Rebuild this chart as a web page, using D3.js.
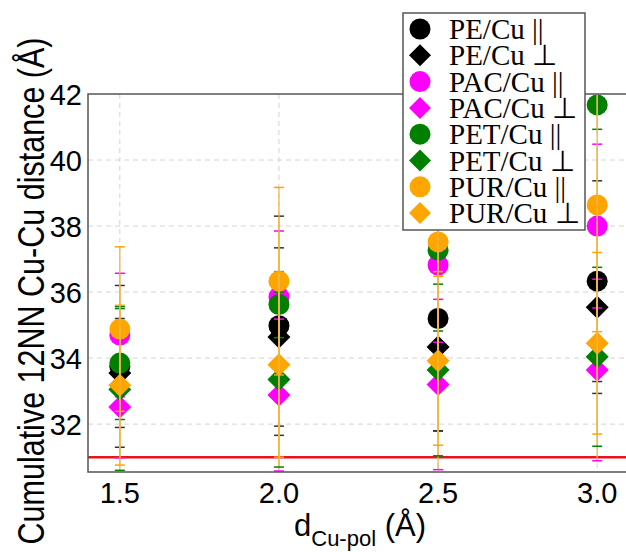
<!DOCTYPE html>
<html>
<head>
<meta charset="utf-8">
<script src="https://cdn.jsdelivr.net/npm/d3@7"></script>
<style>
  body { margin: 0; background: #fff; }
  svg { display: block; }
</style>
</head>
<body>
<script>
// x positions (d Cu-pol, in Å)
const xValues = [1.5, 2.0, 2.5, 3.0];
const xTicks = [1.5, 2.0, 2.5, 3.0];
const yTicks = [32, 34, 36, 38, 40, 42];

// series, in the order they were plotted
const seriesNames = ["PE/Cu ||", "PE/Cu ⊥", "PAC/Cu ||", "PAC/Cu ⊥",
                     "PET/Cu ||", "PET/Cu ⊥", "PUR/Cu ||", "PUR/Cu ⊥"];
const seriesColors = ["black", "black", "magenta", "magenta",
                      "green", "green", "orange", "orange"];
const seriesShapes = ["circle", "diamond", "circle", "diamond",
                      "circle", "diamond", "circle", "diamond"];

const pePar = [33.75, 34.98, 35.2, 36.33];
const peParErr = [2.45, 3.32, 3.4, 3.04];
const pePerp = [33.55, 34.64, 34.34, 35.54];
const pePerpErr = [1.65, 2.7, 2.55, 2.61];
const pacPar = [34.7, 35.85, 36.82, 38.0];
const pacParErr = [1.87, 2.0, 2.34, 2.48];
const pacPerp = [32.52, 32.88, 33.2, 33.64];
const pacPerpErr = [1.54, 2.3, 2.58, 2.75];
const petPar = [33.85, 35.62, 37.27, 41.67];
const petParErr = [1.71, 1.0, 2.45, 0.74];
const petPerp = [33.05, 33.35, 33.64, 34.04];
const petPerpErr = [2.45, 2.65, 2.6, 2.71];
const purPar = [34.88, 36.33, 37.52, 38.64];
const purParErr = [2.49, 2.84, 0.9, 3.84];
const purPerp = [33.18, 33.8, 33.92, 34.45];
const purPerpErr = [2.42, 2.8, 2.56, 2.75];

const refLine = 31.0;

const seriesValues = [pePar, pePerp, pacPar, pacPerp, petPar, petPerp, purPar, purPerp];
const seriesErrors = [peParErr, pePerpErr, pacParErr, pacPerpErr, petParErr, petPerpErr, purParErr, purPerpErr];

let width = 626,
    height = 552;

let plotLeft = 88, plotRight = 629, plotTop = 94, plotBottom = 472;

let x = d3.scaleLinear().domain([1.4, 3.1]).range([plotLeft, plotRight]);
let y = d3.scaleLinear().domain([30.55, 42]).range([plotBottom, plotTop]);

let svg = d3.select("body").append("svg")
    .attr("width", width)
    .attr("height", height);

svg.append("defs").append("clipPath")
    .attr("id", "plotclip")
  .append("rect")
    .attr("x", plotLeft)
    .attr("y", plotTop)
    .attr("width", plotRight - plotLeft)
    .attr("height", plotBottom - plotTop);

// grid lines (dashed)
let grid = svg.append("g").attr("class", "grid");
grid.selectAll(".hgrid")
  .data(yTicks.filter(d => d < 42))
  .enter().append("line")
    .attr("x1", plotLeft).attr("x2", plotRight)
    .attr("y1", d => y(d)).attr("y2", d => y(d))
    .attr("stroke", "#d4d4d4")
    .attr("stroke-width", 1)
    .attr("stroke-dasharray", "5,4");
grid.selectAll(".vgrid")
  .data(xTicks)
  .enter().append("line")
    .attr("x1", d => x(d)).attr("x2", d => x(d))
    .attr("y1", plotTop).attr("y2", plotBottom)
    .attr("stroke", "#d4d4d4")
    .attr("stroke-width", 1)
    .attr("stroke-dasharray", "5,4");

let plot = svg.append("g").attr("clip-path", "url(#plotclip)");

// red reference line
plot.append("line")
    .attr("x1", plotLeft).attr("x2", plotRight)
    .attr("y1", y(refLine)).attr("y2", y(refLine))
    .attr("stroke", "#e8141c")
    .attr("stroke-width", 2.5);

let diamond = function(cx, cy, r) {
  return "M" + cx + "," + (cy - r) + "L" + (cx + r) + "," + cy +
         "L" + cx + "," + (cy + r) + "L" + (cx - r) + "," + cy + "Z";
};

seriesNames.forEach(function(name, i) {
  let pts = xValues.map((xv, j) => ({x: xv, v: seriesValues[i][j], e: seriesErrors[i][j]}));
  let g = plot.append("g").attr("class", "series");

  if (seriesShapes[i] == "circle") {
    g.selectAll("circle")
      .data(pts)
      .enter().append("circle")
        .attr("cx", d => x(d.x))
        .attr("cy", d => y(d.v))
        .attr("r", 10.5)
        .attr("fill", seriesColors[i]);
  } else {
    g.selectAll("path")
      .data(pts)
      .enter().append("path")
        .attr("d", d => diamond(x(d.x), y(d.v), 11.5))
        .attr("fill", seriesColors[i]);
  }

  // error bars
  g.selectAll(".eline")
    .data(pts)
    .enter().append("line")
      .attr("x1", d => x(d.x)).attr("x2", d => x(d.x))
      .attr("y1", d => y(d.v - d.e)).attr("y2", d => y(d.v + d.e))
      .attr("stroke", "#f0b84a")
      .attr("stroke-width", 1.3);
  [-1, 1].forEach(function(s) {
    g.selectAll(".cap" + s)
      .data(pts)
      .enter().append("line")
        .attr("x1", d => x(d.x) - 5).attr("x2", d => x(d.x) + 5)
        .attr("y1", d => y(d.v + s * d.e)).attr("y2", d => y(d.v + s * d.e))
        .attr("stroke", seriesColors[i] == "black" ? "#333" : seriesColors[i])
        .attr("stroke-width", 1.5);
  });
});

// frame (right side falls outside the picture)
svg.append("rect")
    .attr("x", plotLeft)
    .attr("y", plotTop)
    .attr("width", plotRight - plotLeft)
    .attr("height", plotBottom - plotTop)
    .attr("fill", "none")
    .attr("stroke", "#555")
    .attr("stroke-width", 1.5);

// tick labels
svg.selectAll(".xtick")
  .data(xTicks)
  .enter().append("text")
    .attr("x", d => x(d))
    .attr("y", 503)
    .attr("text-anchor", "middle")
    .style("font-family", "Liberation Sans, Arial, sans-serif")
    .style("font-size", "29px")
    .text(d => d3.format(".1f")(d));

svg.selectAll(".ytick")
  .data(yTicks)
  .enter().append("text")
    .attr("x", 82)
    .attr("y", d => y(d) + 10.5)
    .attr("text-anchor", "end")
    .style("font-family", "Liberation Sans, Arial, sans-serif")
    .style("font-size", "29px")
    .text(d => d);

// axis labels
let xlab = svg.append("text")
    .attr("x", 360)
    .attr("y", 536)
    .attr("text-anchor", "middle")
    .style("font-family", "Liberation Sans, Arial, sans-serif")
    .style("font-size", "31px");
xlab.append("tspan").text("d");
xlab.append("tspan").attr("dy", 10).style("font-size", "22px").text("Cu-pol");
xlab.append("tspan").attr("dy", -10).text(" (Å)");

svg.append("text")
    .attr("transform", "translate(44," + 291 + ")rotate(-90)")
    .attr("text-anchor", "middle")
    .attr("textLength", 507)
    .attr("lengthAdjust", "spacingAndGlyphs")
    .style("font-family", "Liberation Sans, Arial, sans-serif")
    .style("font-size", "37px")
    .text("Cumulative 12NN Cu-Cu distance (Å)");

// legend
let legend = svg.append("g").attr("class", "legend");
legend.append("rect")
    .attr("x", 403)
    .attr("y", 13)
    .attr("width", 182)
    .attr("height", 217)
    .attr("fill", "white")
    .attr("stroke", "#555")
    .attr("stroke-width", 1.5);

seriesNames.forEach(function(name, i) {
  let ly = 29 + i * 26.3;
  if (seriesShapes[i] == "circle") {
    legend.append("circle")
        .attr("cx", 420).attr("cy", ly)
        .attr("r", 10.5)
        .attr("fill", seriesColors[i]);
  } else {
    legend.append("path")
        .attr("d", diamond(420, ly, 11))
        .attr("fill", seriesColors[i]);
  }
  legend.append("text")
      .attr("x", 449)
      .attr("y", ly + 10)
      .style("font-family", "Liberation Serif, Times New Roman, serif")
      .style("font-size", "29px")
      .text(name);
});
</script>
</body>
</html>
